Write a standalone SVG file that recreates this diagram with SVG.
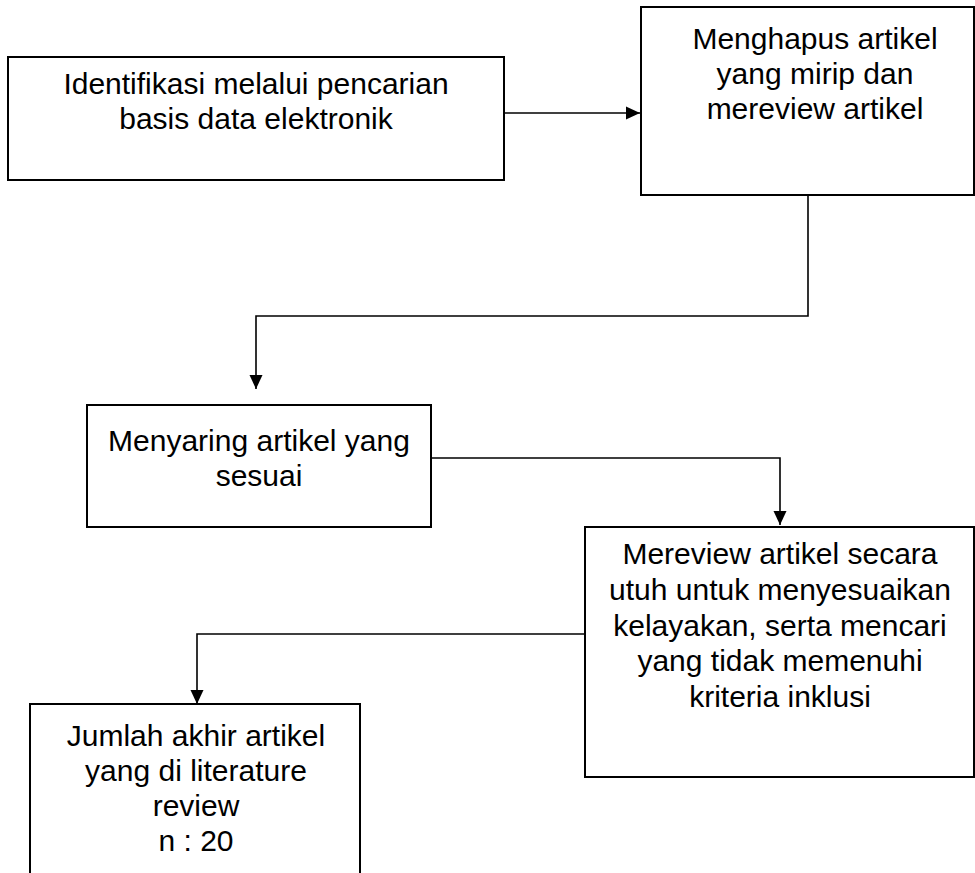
<svg xmlns="http://www.w3.org/2000/svg" width="975" height="873" viewBox="0 0 975 873">
<style>
.box{fill:#fff;stroke:#000;stroke-width:2}
.t{font-family:"Liberation Sans",Arial,sans-serif;font-size:30px;fill:#000;text-anchor:middle}
.c{fill:none;stroke:#000;stroke-width:1.6}
</style>
<defs>
<marker id="ah" markerWidth="14" markerHeight="14" refX="14" refY="7" orient="auto" markerUnits="userSpaceOnUse" viewBox="0 0 14 14">
<path d="M0,0.5 L14,7 L0,13.5 Z" fill="#000"/>
</marker>
</defs>
<rect width="975" height="873" fill="#fff"/>
<g id="connectors">
<path class="c" d="M504,113 H640" marker-end="url(#ah)"/>
<path class="c" d="M808,195 V316 H256 V389" marker-end="url(#ah)"/>
<path class="c" d="M431,458 H780 V525" marker-end="url(#ah)"/>
<path class="c" d="M585,634 H197 V704" marker-end="url(#ah)"/>
</g>
<g id="n1">
<rect class="box" x="8" y="57" width="496" height="123"/>
<text class="t" x="256" y="94">Identifikasi melalui pencarian</text>
<text class="t" x="256" y="129">basis data elektronik</text>
</g>
<g id="n2">
<rect class="box" x="641" y="7" width="333" height="188"/>
<text class="t" x="815" y="49">Menghapus artikel</text>
<text class="t" x="815" y="84">yang mirip dan</text>
<text class="t" x="815" y="119">mereview artikel</text>
</g>
<g id="n3">
<rect class="box" x="87" y="405" width="344" height="122"/>
<text class="t" x="259" y="451">Menyaring artikel yang</text>
<text class="t" x="259" y="486">sesuai</text>
</g>
<g id="n4">
<rect class="box" x="585" y="527" width="389" height="250"/>
<text class="t" x="780" y="564">Mereview artikel secara</text>
<text class="t" x="780" y="600">utuh untuk menyesuaikan</text>
<text class="t" x="780" y="636">kelayakan, serta mencari</text>
<text class="t" x="780" y="671">yang tidak memenuhi</text>
<text class="t" x="780" y="707">kriteria inklusi</text>
</g>
<g id="n5">
<rect class="box" x="30" y="704" width="330" height="180"/>
<text class="t" x="196" y="746">Jumlah akhir artikel</text>
<text class="t" x="196" y="781">yang di literature</text>
<text class="t" x="196" y="816">review</text>
<text class="t" x="196" y="851">n : 20</text>
</g>
</svg>
